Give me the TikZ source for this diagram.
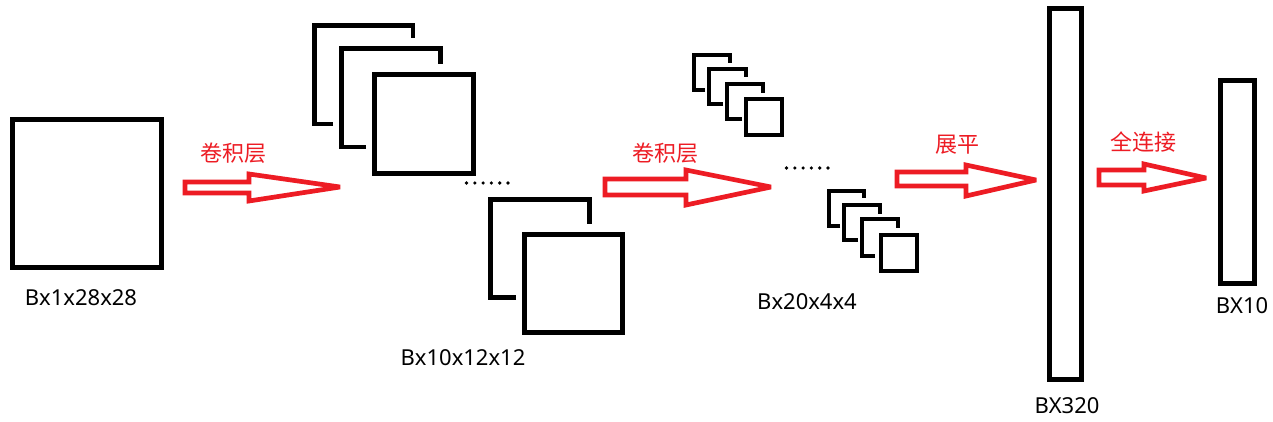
\documentclass[tikz,border=0pt]{standalone}
\usepackage{fontspec}
\setmainfont{Noto Sans}
\newfontfamily\cjk{Noto Sans CJK SC}
\definecolor{myred}{RGB}{237,28,36}
\tikzset{
  blk/.style={draw=black, line width=4.9pt},
  sblk/.style={draw=black, line width=4.4pt},
  redarrow/.style={draw=myred, line width=4.7pt, fill=white, line join=miter, miter limit=2},
  lbl/.style={font=\fontsize{22}{26}\selectfont, text=black, inner sep=0pt},
  clbl/.style={font=\cjk\fontsize{22}{26}\selectfont, text=myred, inner sep=0pt},
  dot/.style={fill=black, circle, inner sep=0pt, minimum size=3.6pt}
}
\begin{document}
\begin{tikzpicture}[x=1pt,y=-1pt]
\useasboundingbox[fill=white] (0,0) rectangle (1273,422);

% input square
\draw[blk] (12.5,119.5) rectangle (161.5,267.5);
\node[lbl] (l1) at (81,298) {Bx1x28x28};

% arrow 1
\draw[redarrow] (185,182) -- (249,182) -- (249,174) -- (340,187) -- (249,201) -- (249,193) -- (185,193) -- cycle;
\node[clbl] (c1) at (233,153) {卷积层};

% stack of large squares
\draw[blk] (333,124) -- (314.5,124) -- (314.5,25.5) -- (413,25.5) -- (413,38);
\draw[blk] (366,147) -- (341.5,147) -- (341.5,48.5) -- (440.5,48.5) -- (440.5,64);
\draw[blk] (374.5,74.5) rectangle (473.5,173.5);
\foreach \i in {0,...,5} \node[dot] (da\i) at (466.5+8.3*\i,183) {};
\draw[blk] (516,297.5) -- (490.5,297.5) -- (490.5,199.5) -- (589.5,199.5) -- (589.5,224);
\draw[blk] (524.5,234.5) rectangle (622.5,332.5);
\node[lbl] (l2) at (463,358) {Bx10x12x12};

% arrow 2
\draw[redarrow] (605,179) -- (686,179) -- (686,170) -- (771,187) -- (686,205) -- (686,195) -- (605,195) -- cycle;
\node[clbl] (c2) at (665,153) {卷积层};

% small squares group 1
\draw[sblk] (705,90) -- (694,90) -- (694,55) -- (730,55) -- (730,63);
\draw[sblk] (723,104) -- (709,104) -- (709,69) -- (746,69) -- (746,77);
\draw[sblk] (742,119) -- (727,119) -- (727,84) -- (763,84) -- (763,93);
\draw[sblk] (746,99) rectangle (782,135);
\foreach \i in {0,...,5} \node[dot] (db\i) at (786.5+8.3*\i,168) {};
% small squares group 2
\draw[sblk] (840,226) -- (829,226) -- (829,191) -- (864,191) -- (864,198);
\draw[sblk] (858,240) -- (844,240) -- (844,205) -- (880,205) -- (880,214);
\draw[sblk] (875,256) -- (862,256) -- (862,219) -- (898,219) -- (898,228);
\draw[sblk] (881,235) rectangle (917,271);
\node[lbl] (l3) at (807,302) {Bx20x4x4};

% arrow 3
\draw[redarrow] (897,172) -- (966,172) -- (966,165) -- (1036,180) -- (966,196) -- (966,186) -- (897,186) -- cycle;
\node[clbl] (c3) at (957,145) {展平};

% flatten bar
\draw[blk] (1049.5,8.5) rectangle (1081.5,379.5);
\node[lbl] (l4) at (1067,406) {BX320};

% arrow 4
\draw[redarrow] (1099,170) -- (1144,170) -- (1144,164) -- (1206,178) -- (1144,191) -- (1144,185) -- (1099,185) -- cycle;
\node[clbl] (c4) at (1143,142) {全连接};

% output bar
\draw[blk] (1220.5,80.5) rectangle (1254.5,283.5);
\node[lbl] (l5) at (1242,306) {BX10};
\end{tikzpicture}
\end{document}
